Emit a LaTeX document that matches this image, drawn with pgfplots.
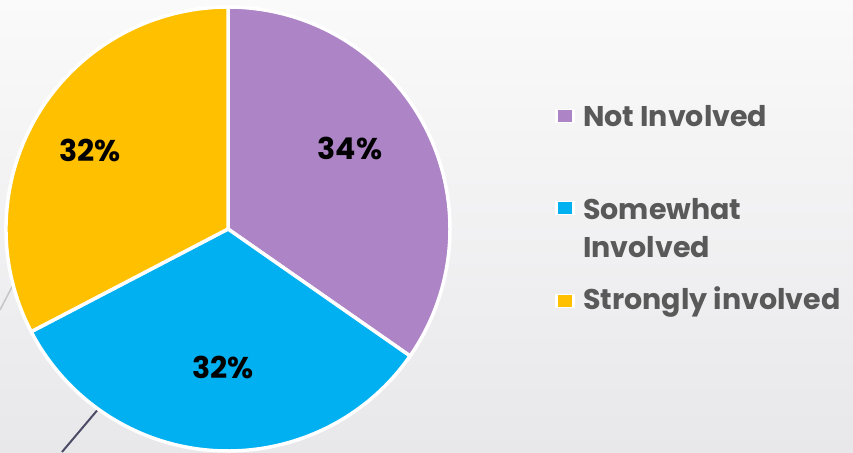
\documentclass[border=0pt]{standalone}
\usepackage{fontspec}
\setmainfont{Poppins}
\usepackage{pgfplots}
\usepackage{pgfplotstable}
\pgfplotsset{compat=1.18}

\definecolor{notinv}{HTML}{AD84C6}
\definecolor{somewhat}{HTML}{00B0F0}
\definecolor{strongly}{HTML}{FFC000}
\definecolor{legtext}{HTML}{595959}
\definecolor{bgtop}{HTML}{FAFAFA}
\definecolor{bgbot}{HTML}{E8E7EA}

\pgfplotstableread[col sep=comma]{
label,value
Not Involved,34
Somewhat Involved,32
Strongly involved,32
}\piedata

\begin{document}
\begin{tikzpicture}[x=1pt,y=1pt]
% values and wedge angles (clockwise from the top)
\pgfplotstablegetelem{0}{value}\of\piedata \let\va\pgfplotsretval
\pgfplotstablegetelem{1}{value}\of\piedata \let\vb\pgfplotsretval
\pgfplotstablegetelem{2}{value}\of\piedata \let\vc\pgfplotsretval
\pgfmathsetmacro\vsum{\va+\vb+\vc}
\pgfmathsetmacro\aA{90}
\pgfmathsetmacro\aB{\aA-360*\va/\vsum}
\pgfmathsetmacro\aC{\aB-360*\vb/\vsum}
\pgfmathsetmacro\aD{\aC-360*\vc/\vsum}

\useasboundingbox (0,0) rectangle (853,452);
\shade[top color=bgtop, bottom color=bgbot] (0,0) rectangle (853,452);
\begin{scope}
\clip (0,0) rectangle (853,452);
% slide decoration lines
\draw[gray!45, line width=1.5pt] (0,142) -- (40,219);
\draw[black!75!blue!40!gray, line width=2pt] (62,0) -- (100,45);

\begin{axis}[
    at={(0,0)}, anchor=south west,
    scale only axis, width=853pt, height=452pt,
    xmin=0, xmax=853, ymin=0, ymax=452,
    hide axis, clip=false]
  \fill[notinv, draw=white, line width=3.5pt, line join=round]
    (axis cs:228,223) -- ++(\aA:222pt) arc[start angle=\aA, end angle=\aB, radius=222pt] -- cycle;
  \fill[somewhat, draw=white, line width=3.5pt, line join=round]
    (axis cs:228,223) -- ++(\aB:222pt) arc[start angle=\aB, end angle=\aC, radius=222pt] -- cycle;
  \fill[strongly, draw=white, line width=3.5pt, line join=round]
    (axis cs:228,223) -- ++(\aC:222pt) arc[start angle=\aC, end angle=\aD, radius=222pt] -- cycle;

  % data labels
  \node[font=\fontsize{30}{36}\selectfont\bfseries] at (axis cs:350,304) {\va\%};
  \node[font=\fontsize{30}{36}\selectfont\bfseries] at (axis cs:90,302) {\vc\%};
  \node[font=\fontsize{30}{36}\selectfont\bfseries] at (axis cs:223,85) {\vb\%};

  % legend
  \fill[white] (axis cs:555,329) rectangle (axis cs:575,343);
  \fill[notinv] (axis cs:558,330) rectangle (axis cs:572,342);
  \fill[white] (axis cs:555,237) rectangle (axis cs:575,251);
  \fill[somewhat] (axis cs:558,238) rectangle (axis cs:572,250);
  \fill[white] (axis cs:555,144) rectangle (axis cs:575,158);
  \fill[strongly] (axis cs:558,145) rectangle (axis cs:572,157);
  \begin{scope}[every node/.style={anchor=base west, text=legtext,
      font=\fontsize{28.5}{34}\selectfont\bfseries, inner sep=0pt}]
    \node at (axis cs:583,325) {Not Involved};
    \node at (axis cs:583,232) {Somewhat};
    \node at (axis cs:583,194) {Involved};
    \node at (axis cs:583,142) {Strongly involved};
  \end{scope}
\end{axis}
\end{scope}
\end{tikzpicture}
\end{document}
